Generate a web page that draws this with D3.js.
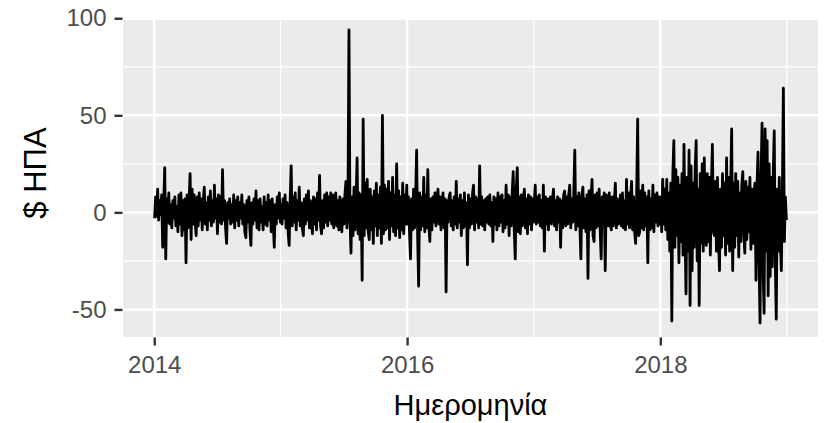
<!DOCTYPE html>
<html>
<head>
<meta charset="utf-8">
<script src="https://cdn.jsdelivr.net/npm/d3@7"></script>
<style>
  html, body { margin: 0; padding: 0; background: #ffffff; }
  svg { display: block; }
  text { font-family: "Liberation Sans", Arial, sans-serif; }
</style>
</head>
<body>
<svg id="chart" width="825" height="423"></svg>
<script>
// ---- Data (daily price change, US $, ~every 2nd trading day) ----
const years = [2014, 2015, 2016, 2017, 2018];

const values2014 = [
  -3, 8, -2, 12, -4, 6, -1, 9, -18, 5,
  23, -24, 7, -5, 10, -6, 4, -8, 6, -3,
  8, -7, 3, -10, 9, -6, 10, -12, 6, -9,
  7, -26, 9, -8, 5, 20, -14, 12, -6, 9,
  -5, -12, 8, -7, 10, -4, 7, -9, 6, 13,
  -6, 5, -9, 8, -4, 11, -7, 6, -5, 14,
  -3, 7, -11, 9, -5, 8, -6, 22, -4, 6,
  -8, -16, 5, -3, 7, -6, 4, -5, 9, -8,
  6, -4, 8, -7, 5, -3, 9, -6, 4, -10,
  -13, 6, -5, 8, -9, -17, 5, -6, 7, -4,
  11, -8, 6, -9, 7, -5, 3, -9, 8, -6,
  5, -7, 9, -4, 6, -10, 7, -5, -18, 4,
  -6, 8, -3, 10, -5
];

const values2015 = [
  4, -6, 7, -3, 9, -8, 5, -10, -17, 6,
  24, -7, 8, -5, 10, -9, 6, -4, 13, -7,
  5, -8, -12, 7, -6, 9, -4, 11, -8, 6,
  -5, -11, 8, -6, 7, -9, 10, -4, 19, -7,
  -11, 6, -8, 9, -5, 10, -7, 8, -4, 10,
  -6, 9, -8, 5, 10, -7, 6, -9, 8, -5,
  -10, 7, -6, 9, 16, -8, 5, 94, -3, -21,
  8, -12, 13, -9, 7, 28, -11, 10, -14, 9,
  -35, 48, -12, 15, -8, 17, -10, -14, 12, -9,
  8, -16, 11, -7, 15, -12, 9, -8, 13, -16,
  50, -11, 14, -9, 12, -8, 16, -14, 10, -7,
  18, -10, 9, -12, 25, -8, 11, -13, 8, -9,
  15, -11, 9, -6, 14
];

const values2016 = [
  -6, 8, -10, -24, 7, -9, 12, -8, 6, 32,
  -12, -38, 10, -9, 8, -7, 18, -10, 9, -8,
  22, -6, -15, 7, -9, 8, -5, 10, -7, 6,
  12, -6, 8, -9, 5, 10, -8, 7, -41, 6,
  -5, 8, 10, -7, 6, -9, 8, -6, 16, -8,
  7, -5, 9, -12, 6, -8, 10, -7, 5, -27,
  9, -8, 7, -6, 10, 14, -9, 8, -5, 7,
  -8, 24, -6, 8, -7, 6, -9, 7, -5, 8,
  -6, 9, -7, 5, -15, 8, -6, 7, -9, 10,
  -7, 8, -5, 9, -10, 6, -8, 14, -6, 9,
  -12, 8, -7, 10, 21, -9, -24, 12, 23, -10,
  8, -11, 9, -7, 6, 12, -8, 7, -11, 9,
  -6, 8, -9, 7, -5
];

const values2017 = [
  5, 14, -6, 8, -5, 9, -7, 6, -8, 14,
  -20, 8, -6, 7, -9, 5, 8, -6, 7, 12,
  -7, 6, -9, 8, -5, 7, -18, 6, -8, 9,
  11, -7, 8, -6, 9, 14, -8, 7, -5, 10,
  32, -9, 8, -7, 10, -6, -24, 9, 13, -8,
  7, -10, 9, -34, 11, -9, 8, 17, -12, -15,
  9, -8, 10, -7, 12, -9, -24, 8, -6, 10,
  -30, 9, 8, -7, 10, -6, -9, 8, -7, 6,
  15, -8, 7, -6, -5, 9, -7, 10, -8, 6,
  -9, 17, -6, 10, -8, 7, 16, -9, 8, -10,
  -16, 9, 48, -12, -10, 11, -8, 14, -9, 10,
  -7, 8, -26, 11, -9, 7, -8, 14, -10, 9,
  -5, 10, -7, 8, -6
];

const values2018 = [
  8, -10, 17, -6, 12, -9, 17, -14, 10, -20,
  15, -56, 20, 37, -18, 22, -12, 18, -26, 14,
  -15, 20, -22, 35, -10, -42, 18, -20, 32, -48,
  24, -30, 15, -18, 22, 37, -25, 12, -48, 20,
  -16, 25, -20, 28, -12, -17, 20, -15, 18, -22,
  14, 35, -10, -12, 16, -20, 18, -14, -30, 12,
  -18, 20, -12, 15, -22, 28, -16, 18, -20, 12,
  43, -30, 15, -18, 20, -12, 16, -23, 10, -15,
  14, 21, -12, -21, 16, -14, 13, -10, 18, -19,
  12, -16, 10, 15, -35, 14, 31, -25, -57, 20,
  46, -30, -52, 43, -20, 37, -43, 25, -33, 18,
  -28, 20, 42, -25, -55, 12, -20, 18, -15, -30,
  10, 64, -15, 8, -4
];

const yTickValues = [-50, 0, 50, 100];
const yTickLabels = ["-50", "0", "50", "100"];
const xTickYears = [2014, 2016, 2018];
const xTickLabels = ["2014", "2016", "2018"];
const xLabel = "Ημερομηνία";
const yLabel = "$ ΗΠΑ";

// ---- Build table: values spread through each year, Jan 2 .. Dec 31 ----
const valuesByYear = [values2014, values2015, values2016, values2017, values2018];
const data = [];
years.forEach((yr, k) => {
  const arr = valuesByYear[k];
  const start = new Date(yr, 0, 2).getTime();
  const end = new Date(yr, 11, 31).getTime();
  arr.forEach((v, i) => {
    data.push({ date: new Date(start + (end - start) * i / (arr.length - 1)), value: v });
  });
});

// ---- Layout ----
const svg = d3.select("#chart");
const panel = { left: 123, right: 818, top: 20, bottom: 337 };

const ext = d3.extent(data, d => d.date);
const span = ext[1] - ext[0];
const x = d3.scaleTime()
  .domain([new Date(ext[0].getTime() - 0.05 * span), new Date(ext[1].getTime() + 0.05 * span)])
  .range([panel.left, panel.right]);

const y = d3.scaleLinear()
  .domain([-64.2, 99.1])
  .range([panel.bottom, panel.top]);

// panel background
svg.append("rect")
  .attr("x", panel.left).attr("y", panel.top)
  .attr("width", panel.right - panel.left).attr("height", panel.bottom - panel.top)
  .attr("fill", "#EBEBEB");

svg.append("clipPath").attr("id", "clip")
  .append("rect")
  .attr("x", panel.left).attr("y", panel.top)
  .attr("width", panel.right - panel.left).attr("height", panel.bottom - panel.top);

const grid = svg.append("g").attr("clip-path", "url(#clip)");

// minor grid
const yMinor = [-75, -25, 25, 75];
grid.selectAll(".ymin").data(yMinor).enter().append("line")
  .attr("x1", panel.left).attr("x2", panel.right)
  .attr("y1", d => y(d)).attr("y2", d => y(d))
  .attr("stroke", "#ffffff").attr("stroke-width", 1.2);
const xMinor = [2015, 2017, 2019].map(yr => new Date(yr, 0, 1));
grid.selectAll(".xmin").data(xMinor).enter().append("line")
  .attr("y1", panel.top).attr("y2", panel.bottom)
  .attr("x1", d => x(d)).attr("x2", d => x(d))
  .attr("stroke", "#ffffff").attr("stroke-width", 1.2);

// major grid
grid.selectAll(".ymaj").data(yTickValues).enter().append("line")
  .attr("x1", panel.left).attr("x2", panel.right)
  .attr("y1", d => y(d)).attr("y2", d => y(d))
  .attr("stroke", "#ffffff").attr("stroke-width", 2.4);
const xMajor = xTickYears.map(yr => new Date(yr, 0, 1));
grid.selectAll(".xmaj").data(xMajor).enter().append("line")
  .attr("y1", panel.top).attr("y2", panel.bottom)
  .attr("x1", d => x(d)).attr("x2", d => x(d))
  .attr("stroke", "#ffffff").attr("stroke-width", 2.4);

// line
const line = d3.line().x(d => x(d.date)).y(d => y(d.value));
svg.append("path")
  .datum(data)
  .attr("d", line)
  .attr("fill", "none")
  .attr("stroke", "#000000")
  .attr("stroke-width", 2.8)
  .attr("stroke-linejoin", "round");

// axes
const yAxis = d3.axisLeft(y)
  .tickValues(yTickValues)
  .tickFormat((d, i) => yTickLabels[i])
  .tickSize(8).tickPadding(8);
const gy = svg.append("g").attr("transform", `translate(${panel.left - 0.5},0)`).call(yAxis);
gy.select(".domain").remove();
gy.selectAll(".tick line").attr("stroke", "#333333").attr("stroke-width", 2.4);
gy.selectAll(".tick text").attr("fill", "#4D4D4D").style("font-size", "24px");

const xAxis = d3.axisBottom(x)
  .tickValues(xMajor)
  .tickFormat((d, i) => xTickLabels[i])
  .tickSize(8).tickPadding(10);
const gx = svg.append("g").attr("transform", `translate(0,${panel.bottom + 0.5})`).call(xAxis);
gx.select(".domain").remove();
gx.selectAll(".tick line").attr("stroke", "#333333").attr("stroke-width", 2.4);
gx.selectAll(".tick text").attr("fill", "#4D4D4D").style("font-size", "24px");

// axis titles
svg.append("text")
  .attr("x", (panel.left + panel.right) / 2)
  .attr("y", 415)
  .attr("text-anchor", "middle")
  .attr("fill", "#000000")
  .style("font-size", "29px")
  .text(xLabel);

svg.append("text")
  .attr("transform", `translate(46,173) rotate(-90)`)
  .attr("text-anchor", "middle")
  .attr("fill", "#000000")
  .style("font-size", "31px")
  .text(yLabel);
</script>
</body>
</html>
